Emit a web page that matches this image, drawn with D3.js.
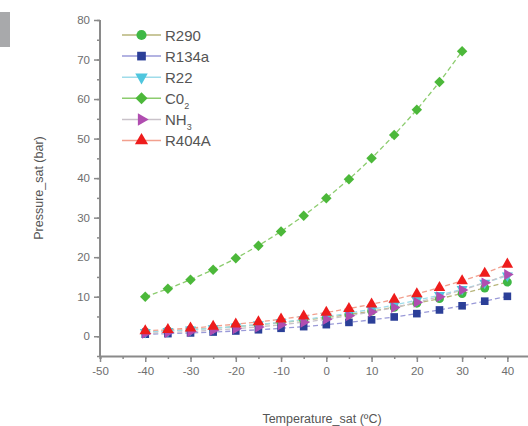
<!DOCTYPE html>
<html>
<head>
<meta charset="utf-8">
<script src="https://cdn.jsdelivr.net/npm/d3@7"></script>
<style>
  body { margin: 0; background: #fff; }
  svg { display: block; font-family: "Liberation Sans", Arial, sans-serif; }
</style>
</head>
<body>
<div id="chart"></div>
<script>
// saturation temperatures (ºC)
const temps = [-40, -35, -30, -25, -20, -15, -10, -5, 0, 5, 10, 15, 20, 25, 30, 35, 40];
const tempsCO2 = [-40, -35, -30, -25, -20, -15, -10, -5, 0, 5, 10, 15, 20, 25, 30];

// pressures (bar)
const r290  = [1.11, 1.35, 1.68, 2.03, 2.45, 2.9, 3.45, 4.06, 4.74, 5.5, 6.36, 7.3, 8.36, 9.5, 10.8, 12.2, 13.7];
const r134a = [0.51, 0.66, 0.84, 1.06, 1.33, 1.64, 2.01, 2.43, 2.93, 3.5, 4.15, 4.88, 5.72, 6.65, 7.7, 8.87, 10.1];
const r22   = [1.05, 1.31, 1.64, 2.01, 2.45, 2.96, 3.55, 4.21, 4.98, 5.84, 6.81, 7.89, 9.1, 10.4, 11.9, 13.5, 15.3];
const co2   = [10.0, 12.0, 14.3, 16.8, 19.7, 22.9, 26.5, 30.5, 34.9, 39.7, 45.0, 50.9, 57.3, 64.3, 72.1];
const nh3   = [0.72, 0.93, 1.19, 1.52, 1.9, 2.36, 2.91, 3.55, 4.29, 5.16, 6.15, 7.28, 8.57, 10.0, 11.7, 13.5, 15.6];
const r404a = [1.35, 1.66, 2.06, 2.5, 3.05, 3.6, 4.3, 5.1, 6.0, 7.0, 8.1, 9.3, 10.7, 12.3, 14.0, 15.9, 18.2];

const xTicks = [-50, -40, -30, -20, -10, 0, 10, 20, 30, 40];
const yTicks = [0, 10, 20, 30, 40, 50, 60, 70, 80];

const series = [
  {name: 'R290',  sub: '',  xs: temps,    ys: r290,  symbol: d3.symbolCircle,   rot: 0,   fill: '#3fb845', line: '#b7b57a', size: 62},
  {name: 'R134a', sub: '',  xs: temps,    ys: r134a, symbol: d3.symbolSquare,   rot: 0,   fill: '#2b3f98', line: '#9a9ad8', size: 58},
  {name: 'R22',   sub: '',  xs: temps,    ys: r22,   symbol: d3.symbolTriangle, rot: 180, fill: '#4fc6de', line: '#9fdcea', size: 52},
  {name: 'C0',    sub: '2', xs: tempsCO2, ys: co2,   symbol: d3.symbolSquare,   rot: 45,  fill: '#4cb83a', line: '#8ccc6e', size: 55},
  {name: 'NH',    sub: '3', xs: temps,    ys: nh3,   symbol: d3.symbolTriangle, rot: 90,  fill: '#b04db0', line: '#c9c2c9', size: 52},
  {name: 'R404A', sub: '',  xs: temps,    ys: r404a, symbol: d3.symbolTriangle, rot: 0,   fill: '#ee1c1c', line: '#f2a08e', size: 58}
];

const width = 528, height = 426;

const svg = d3.select('#chart')
  .append('svg')
  .attr('width', width)
  .attr('height', height);

// grey tab top-left
svg.append('rect')
  .attr('x', 0).attr('y', 12)
  .attr('width', 10).attr('height', 35)
  .attr('fill', '#a8a9ab');

const x = d3.scaleLinear().domain([-50, 45]).range([100, 530]);
const y = d3.scaleLinear().domain([-5, 80]).range([356, 20]);

const axisColor = '#8a8a8a';
const textColor = '#6e6e6e';
const plainNum = d => String(d);

// x axis
const xAxisG = svg.append('g')
  .attr('transform', 'translate(0,' + y(-5) + ')');
xAxisG.call(d3.axisBottom(x).tickValues(d3.range(-50, 46, 5)).tickSize(3).tickFormat(''));
const xMajor = svg.append('g')
  .attr('transform', 'translate(0,' + y(-5) + ')')
  .call(d3.axisBottom(x).tickValues(xTicks).tickSize(6).tickPadding(5).tickFormat(plainNum));
xMajor.select('.domain').remove();
[xAxisG, xMajor].forEach(g => {
  g.select('.domain').attr('stroke', axisColor).attr('stroke-width', 2);
  g.selectAll('.tick line').attr('stroke', axisColor).attr('stroke-width', 1.5);
  g.selectAll('text').attr('fill', textColor).style('font-size', '11.5px');
});

// y axis
const yAxisG = svg.append('g')
  .attr('transform', 'translate(' + x(-50) + ',0)');
yAxisG.call(d3.axisLeft(y).tickValues(d3.range(-5, 81, 5)).tickSize(3).tickFormat(''));
const yMajor = svg.append('g')
  .attr('transform', 'translate(' + x(-50) + ',0)')
  .call(d3.axisLeft(y).tickValues(yTicks).tickSize(6).tickPadding(4).tickFormat(plainNum));
yMajor.select('.domain').remove();
yAxisG.select('.domain').attr('d', 'M0,' + y(80) + 'V' + y(-5));
[yAxisG, yMajor].forEach(g => {
  g.select('.domain').attr('stroke', axisColor).attr('stroke-width', 2);
  g.selectAll('.tick line').attr('stroke', axisColor).attr('stroke-width', 1.5);
  g.selectAll('text').attr('fill', textColor).style('font-size', '11.5px');
});

// axis titles
svg.append('text')
  .attr('transform', 'translate(43,' + 188 + ') rotate(-90)')
  .attr('text-anchor', 'middle')
  .attr('fill', '#555')
  .style('font-size', '12.5px')
  .text('Pressure_sat (bar)');

svg.append('text')
  .attr('x', 322).attr('y', 423)
  .attr('text-anchor', 'middle')
  .attr('fill', '#555')
  .style('font-size', '12.5px')
  .text('Temperature_sat (ºC)');

// series
const line = d3.line().x(d => x(d[0])).y(d => y(d[1]));

series.forEach(s => {
  const pts = s.xs.map((t, i) => [t, s.ys[i]]);
  svg.append('path')
    .datum(pts)
    .attr('d', line)
    .attr('fill', 'none')
    .attr('stroke', s.line)
    .attr('stroke-width', 1.3)
    .attr('stroke-dasharray', '5,3');
});

series.forEach(s => {
  const pts = s.xs.map((t, i) => [t, s.ys[i]]);
  svg.append('g').selectAll('path')
    .data(pts)
    .enter()
    .append('path')
      .attr('d', d3.symbol().type(s.symbol).size(s.size))
      .attr('transform', d => 'translate(' + x(d[0]) + ',' + y(d[1]) + ') rotate(' + s.rot + ')')
      .attr('fill', s.fill);
});

// legend
const legend = svg.append('g');
series.forEach((s, i) => {
  const ly = 35 + i * 21.1;
  const row = legend.append('g').attr('transform', 'translate(0,' + ly + ')');
  row.append('line')
    .attr('x1', 122).attr('x2', 161)
    .attr('stroke', s.line).attr('stroke-width', 1.5);
  row.append('path')
    .attr('d', d3.symbol().type(s.symbol).size(s.size * 1.3))
    .attr('transform', 'translate(141.5,0) rotate(' + s.rot + ')')
    .attr('fill', s.fill);
  const txt = row.append('text')
    .attr('x', 165).attr('y', 5.5)
    .attr('fill', '#555')
    .style('font-size', '15px')
    .text(s.name);
  if (s.sub) {
    txt.append('tspan')
      .attr('dy', 5)
      .style('font-size', '9px')
      .text(s.sub);
  }
});
</script>
</body>
</html>
